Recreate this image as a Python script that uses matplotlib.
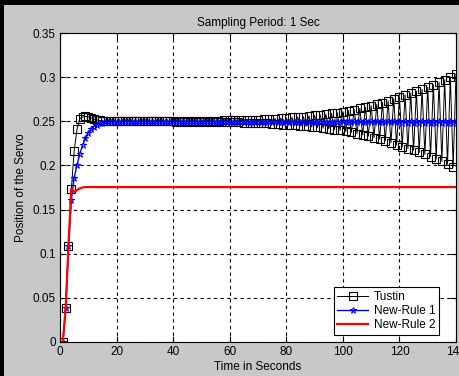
import matplotlib
matplotlib.use("Agg")
import matplotlib.pyplot as plt
from matplotlib.patches import Rectangle

plt.rcParams['font.family'] = ['Liberation Sans', 'DejaVu Sans']

title = "Sampling Period: 1 Sec"
xlabel = "Time in Seconds"
ylabel = "Position of the Servo"
series_names = ["Tustin", "New-Rule 1", "New-Rule 2"]
xticks = [0, 20, 40, 60, 80, 100, 120, 140]
yticks = [0, 0.05, 0.1, 0.15, 0.2, 0.25, 0.3, 0.35]
ytick_labels = ["0", "0.05", "0.1", "0.15", "0.2", "0.25", "0.3", "0.35"]

time_s = list(range(1, 141))

tustin = [
    0.0, 0.038, 0.109, 0.173, 0.216, 0.241, 0.253, 0.255, 0.2555, 0.255,
    0.254, 0.2525, 0.2515, 0.251, 0.2505, 0.2500, 0.2500, 0.2500, 0.2500, 0.2500,
    0.2500, 0.2500, 0.2500, 0.2500, 0.2500, 0.2500, 0.2500, 0.2500, 0.2500, 0.2500,
    0.2500, 0.2500, 0.2500, 0.2500, 0.2500, 0.2500, 0.2500, 0.2500, 0.2500, 0.2503,
    0.2497, 0.2504, 0.2496, 0.2504, 0.2496, 0.2505, 0.2495, 0.2505, 0.2494, 0.2506,
    0.2494, 0.2507, 0.2493, 0.2507, 0.2492, 0.2508, 0.2491, 0.2509, 0.2490, 0.2510,
    0.2489, 0.2512, 0.2488, 0.2513, 0.2486, 0.2515, 0.2484, 0.2517, 0.2481, 0.2520,
    0.2479, 0.2523, 0.2475, 0.2526, 0.2472, 0.2530, 0.2467, 0.2535, 0.2463, 0.2540,
    0.2458, 0.2544, 0.2453, 0.2549, 0.2448, 0.2554, 0.2443, 0.2560, 0.2437, 0.2566,
    0.2430, 0.2573, 0.2423, 0.2581, 0.2415, 0.2590, 0.2406, 0.2599, 0.2396, 0.2610,
    0.2385, 0.2621, 0.2373, 0.2633, 0.2361, 0.2646, 0.2347, 0.2660, 0.2332, 0.2676,
    0.2316, 0.2693, 0.2298, 0.2712, 0.2278, 0.2733, 0.2256, 0.2756, 0.2232, 0.2780,
    0.2211, 0.2799, 0.2191, 0.2819, 0.2171, 0.2840, 0.2149, 0.2863, 0.2125, 0.2887,
    0.2100, 0.2913, 0.2073, 0.2941, 0.2045, 0.2970, 0.2014, 0.3002, 0.1982, 0.3035,
]

new_rule_1 = [
    0.0, 0.038, 0.109, 0.161, 0.186, 0.200, 0.213, 0.223, 0.231, 0.237,
    0.241, 0.244, 0.246, 0.2475, 0.2483, 0.2488, 0.2491, 0.2493, 0.2494, 0.2495,
    0.2495, 0.2495, 0.2495, 0.2495, 0.2495, 0.2495, 0.2495, 0.2495, 0.2495, 0.2495,
    0.2495, 0.2495, 0.2495, 0.2495, 0.2495, 0.2495, 0.2495, 0.2495, 0.2495, 0.2495,
    0.2495, 0.2495, 0.2495, 0.2495, 0.2495, 0.2495, 0.2495, 0.2495, 0.2495, 0.2495,
    0.2495, 0.2495, 0.2495, 0.2495, 0.2495, 0.2495, 0.2495, 0.2495, 0.2495, 0.2495,
    0.2495, 0.2495, 0.2495, 0.2495, 0.2495, 0.2495, 0.2495, 0.2495, 0.2495, 0.2495,
    0.2495, 0.2495, 0.2495, 0.2495, 0.2495, 0.2495, 0.2495, 0.2495, 0.2495, 0.2495,
    0.2495, 0.2495, 0.2495, 0.2495, 0.2495, 0.2495, 0.2495, 0.2495, 0.2495, 0.2495,
    0.2494, 0.2496, 0.2494, 0.2496, 0.2493, 0.2497, 0.2493, 0.2497, 0.2492, 0.2499,
    0.2491, 0.2499, 0.2491, 0.2499, 0.2490, 0.2500, 0.2490, 0.2500, 0.2489, 0.2501,
    0.2489, 0.2501, 0.2488, 0.2502, 0.2488, 0.2502, 0.2487, 0.2503, 0.2487, 0.2503,
    0.2486, 0.2504, 0.2486, 0.2504, 0.2486, 0.2504, 0.2485, 0.2505, 0.2485, 0.2505,
    0.2485, 0.2505, 0.2484, 0.2506, 0.2484, 0.2506, 0.2484, 0.2506, 0.2484, 0.2506,
]

red_time = [1, 2, 3, 4, 5, 6, 7, 8, 9, 140]
new_rule_2 = [0.0, 0.038, 0.109, 0.174, 0.170, 0.172, 0.174, 0.175, 0.1755, 0.1755]

bg = '#c8c8c8'
fig = plt.figure(figsize=(4.6, 3.76), dpi=100, facecolor=bg)
ax = fig.add_axes([60 / 460, 34 / 376, 396 / 460, 309 / 376])
ax.set_facecolor('white')

l1, = ax.plot(time_s, tustin, color='black', lw=0.7, marker='s', ms=5.5,
              mfc='none', mec='black', mew=0.8, label=series_names[0])
l2, = ax.plot(time_s, new_rule_1, color='#0000ff', lw=1.0, marker='*', ms=4.5,
              mfc='none', mec='#0000ff', mew=0.7, label=series_names[1])
l3, = ax.plot(red_time, new_rule_2, color='#ff0000', lw=1.6, label=series_names[2])

ax.set_xlim(0, 140)
ax.set_ylim(0, 0.35)
ax.set_xticks(xticks)
ax.set_xticklabels([str(v) for v in xticks])
ax.set_yticks(yticks)
ax.set_yticklabels(ytick_labels)
ax.tick_params(direction='in', length=4, width=0.8, labelsize=8.5, colors='black',
               top=True, right=True, pad=3)
ax.grid(True, color='black', linestyle=(0, (3, 3)), linewidth=0.8)
for s in ax.spines.values():
    s.set_linewidth(0.8)
    s.set_color('black')

ax.set_title(title, fontsize=8.5, pad=5)
ax.set_xlabel(xlabel, fontsize=8.5, labelpad=2)
ax.set_ylabel(ylabel, fontsize=8.5, labelpad=4)

leg = ax.legend(loc='lower right', bbox_to_anchor=(379 / 396, 7 / 309), borderaxespad=0,
                fontsize=8.5, fancybox=False, framealpha=1, edgecolor='black',
                handlelength=2.6, handletextpad=0.5, borderpad=0.3, labelspacing=0.2)
leg.get_frame().set_linewidth(0.8)

fig.patches.append(Rectangle((0, 1 - 5 / 376), 1, 5 / 376, transform=fig.transFigure,
                             facecolor='black', edgecolor='none', zorder=-1))
fig.patches.append(Rectangle((0, 0), 4 / 460, 1, transform=fig.transFigure,
                             facecolor='black', edgecolor='none', zorder=-1))

fig.savefig('out.png', dpi=100, facecolor=bg)
